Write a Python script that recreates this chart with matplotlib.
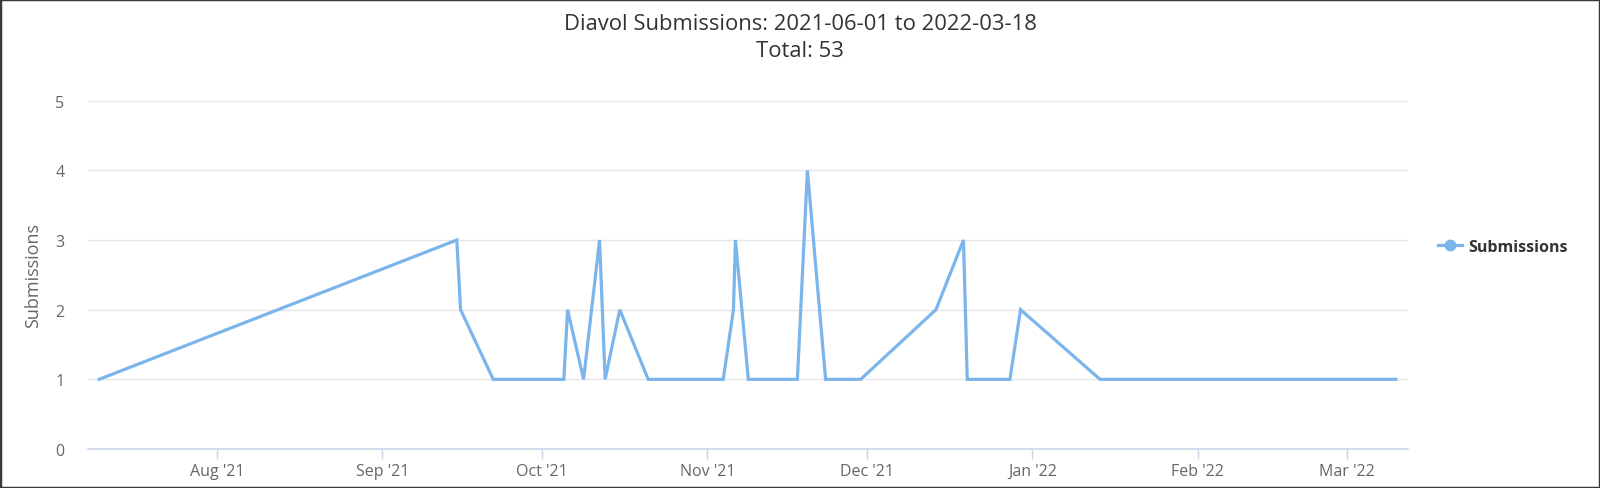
import numpy as np
import pandas as pd
import matplotlib
matplotlib.use("Agg")
import matplotlib.pyplot as plt
import matplotlib.dates as mdates
from matplotlib.patches import Rectangle

plt.rcParams['font.family'] = ['Open Sans', 'DejaVu Sans']

# submissions per day
dates = ["2021-07-09 21:00", "2021-09-15 00:00", "2021-09-15 17:00", "2021-09-21 20:00",
         "2021-10-05 02:00", "2021-10-05 19:00", "2021-10-08 19:00", "2021-10-11 19:00",
         "2021-10-12 20:00", "2021-10-15 14:00", "2021-10-20 22:00", "2021-11-04 00:00",
         "2021-11-05 22:00", "2021-11-06 07:00", "2021-11-08 17:00", "2021-11-17 22:00",
         "2021-11-19 19:00", "2021-11-23 05:00", "2021-11-29 19:00", "2021-12-13 22:00",
         "2021-12-19 02:00", "2021-12-19 19:00", "2021-12-27 19:00", "2021-12-29 19:00",
         "2022-01-13 17:00", "2022-03-10 05:00"]
counts = [1, 3, 2, 1,
          1, 2, 1, 3,
          1, 2, 1, 1,
          2, 3, 1, 1,
          4, 1, 1, 2,
          3, 1, 1, 2,
          1, 1]
x_range = ["2021-07-07 19:00", "2022-03-12 12:00"]
y_ticks = [0, 1, 2, 3, 4, 5]

title = "Diavol Submissions: 2021-06-01 to 2022-03-18\nTotal: 53"

dates = pd.to_datetime(dates)

fig = plt.figure(figsize=(16, 4.89), dpi=100)
ax = fig.add_axes([88/1600, 1 - 450/489, 1320/1600, (450 - 101.7)/489])

ax.plot(dates, counts, color='#7cb5ec', lw=2.3, label='Submissions',
        solid_joinstyle='miter')

ax.set_xlim(pd.to_datetime(x_range))
ax.set_ylim(0, 5)
ax.set_yticks(y_ticks)
ax.yaxis.grid(True, color='#e6e6e6', lw=1)
ax.set_axisbelow(True)

for s in ['top', 'right', 'left']:
    ax.spines[s].set_visible(False)
ax.spines['bottom'].set_color('#ccd6eb')
ax.spines['bottom'].set_linewidth(1.2)

ax.xaxis.set_major_locator(mdates.MonthLocator())
ax.xaxis.set_major_formatter(mdates.DateFormatter("%b '%y"))
ax.tick_params(axis='x', length=7, color='#ccd6eb', width=1, labelsize=11.5,
               labelcolor='#666666', pad=3)
ax.tick_params(axis='y', length=0, labelsize=11.5, labelcolor='#666666', pad=17)

ax.set_ylabel('Submissions', color='#666666', fontsize=13)
ax.yaxis.set_label_coords(-0.035, 0.5)

fig.text(0.5, 1 - 38/489, title, ha='center', va='center', fontsize=15.8,
         color='#333333', linespacing=1.38)

# legend with a line + dot handle
h = plt.Line2D([], [], color='#7cb5ec', lw=2.3, marker='o', markersize=7.5,
               markerfacecolor='#7cb5ec', markeredgecolor='#7cb5ec')
fig.legend([h], ['Submissions'], loc='center left',
           bbox_to_anchor=(1424/1600, 1 - 248/489), frameon=False,
           handlelength=1.45, handletextpad=0.4,
           prop={'weight': 'bold', 'size': 11.5}, labelcolor='#333333')

fig.patches.append(Rectangle((0, 0), 1, 1, transform=fig.transFigure, fill=False,
                             edgecolor='#3a3a3a', lw=2.5))

fig.savefig('out.png', dpi=100, facecolor='white')
